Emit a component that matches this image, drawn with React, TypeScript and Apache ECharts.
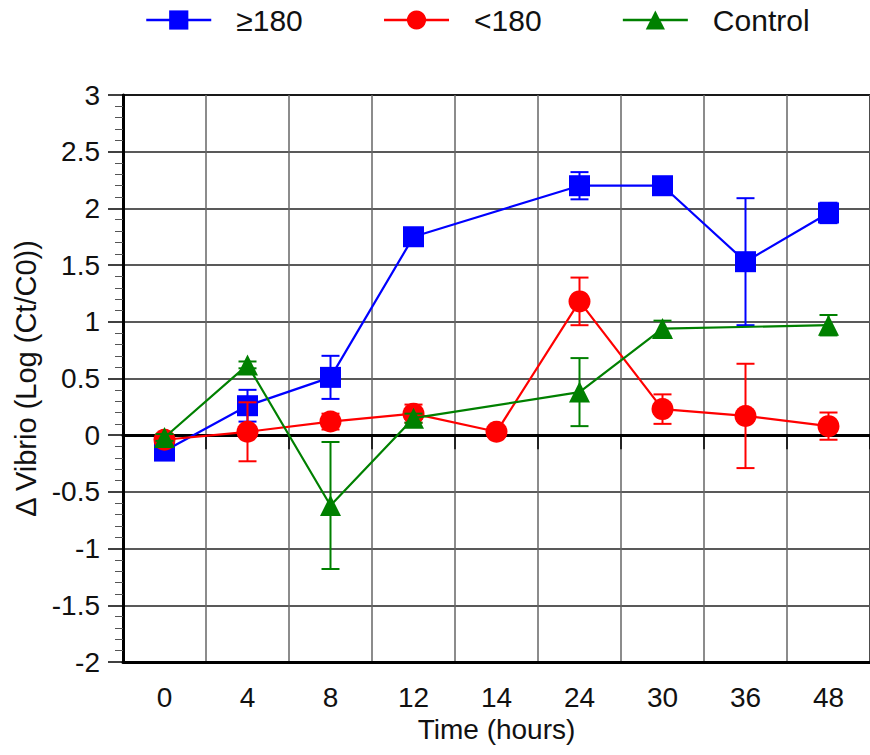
import React, { useEffect, useRef } from "react";
import * as echarts from "echarts";

const categories = ["0", "4", "8", "12", "14", "24", "30", "36", "48"];
const highMean = [-0.14, 0.26, 0.51, 1.75, null, 2.2, 2.2, 1.53, 1.96];
const highErr = [0.02, 0.14, 0.19, 0.03, null, 0.12, 0.04, 0.56, 0.09];
const lowMean = [-0.04, 0.03, 0.12, 0.19, 0.03, 1.18, 0.23, 0.17, 0.08];
const lowErr = [0.03, 0.26, 0.07, 0.08, 0.02, 0.21, 0.13, 0.46, 0.12];
const ctrlMean = [-0.02, 0.62, -0.62, 0.15, null, 0.38, 0.94, null, 0.97];
const ctrlErr = [0.03, 0.03, 0.56, 0.04, null, 0.3, 0.07, null, 0.09];
const yTicks = { min: -2, max: 3, interval: 0.5 };

const FONT = "'Liberation Sans', Arial, Helvetica, sans-serif";
const BLUE = "#0000ff";
const RED = "#ff0000";
const GREEN = "#008000";

function errSeries(means: (number | null)[], errs: (number | null)[], color: string, z: number) {
  const data: number[][] = [];
  means.forEach((m, i) => {
    const e = errs[i];
    if (m != null && e != null) data.push([i, m - e, m + e]);
  });
  return {
    type: "custom",
    z,
    silent: true,
    data,
    encode: { x: 0, y: [1, 2] },
    renderItem: (params: any, api: any) => {
      const x = api.value(0);
      const a = api.coord([x, api.value(2)]);
      const b = api.coord([x, api.value(1)]);
      const half = 9;
      const style = { stroke: color, lineWidth: 2 };
      return {
        type: "group",
        children: [
          { type: "line", shape: { x1: a[0], y1: a[1], x2: b[0], y2: b[1] }, style },
          { type: "line", shape: { x1: a[0] - half, y1: a[1], x2: a[0] + half, y2: a[1] }, style },
          { type: "line", shape: { x1: b[0] - half, y1: b[1], x2: b[0] + half, y2: b[1] }, style },
        ],
      };
    },
  };
}

function lineSeries(name: string, data: (number | null)[], color: string, symbol: string, size: number, z: number) {
  return {
    type: "line",
    name,
    data,
    z,
    connectNulls: true,
    symbol,
    symbolSize: size,
    showAllSymbol: true,
    itemStyle: { color },
    lineStyle: { color, width: 2.2 },
  };
}

export default function App() {
  const ref = useRef<HTMLDivElement>(null);
  useEffect(() => {
    if (!ref.current) return;
    const chart = echarts.init(ref.current, undefined, { renderer: "svg" });
    chart.setOption({
      animation: false,
      backgroundColor: "#ffffff",
      textStyle: { fontFamily: FONT },
      legend: {
        left: 140,
        top: 0,
        itemWidth: 65,
        itemHeight: 24,
        itemGap: 80,
        data: ["≥180", "<180", "Control"],
        lineStyle: { width: 2.5 },
        textStyle: { fontSize: 30, color: "#111", fontFamily: FONT, padding: [0, 0, 0, 20] },
      },
      grid: {
        left: 123,
        top: 95,
        width: 752,
        height: 567,
        show: true,
        borderColor: "#000",
        borderWidth: 2,
        backgroundColor: "transparent",
      },
      xAxis: [
        {
          type: "category",
          data: categories,
          position: "bottom",
          boundaryGap: true,
          axisLine: { onZero: false, lineStyle: { color: "#000", width: 3 } },
          axisTick: { show: false },
          axisLabel: { fontSize: 28, color: "#111", margin: 21, fontFamily: FONT, interval: 0 },
          splitLine: { show: true, interval: 0, lineStyle: { color: "#666", width: 1.5 } },
          name: "Time (hours)",
          nameLocation: "middle",
          nameGap: 53,
          nameTextStyle: { fontSize: 28, color: "#111", fontFamily: FONT },
        },
        {
          type: "category",
          data: categories,
          position: "bottom",
          boundaryGap: true,
          axisLine: { show: true, onZero: true, lineStyle: { color: "#000", width: 3 } },
          axisTick: { show: true, interval: 0, length: 14, lineStyle: { color: "#000", width: 1.5 } },
          axisLabel: { show: false },
          splitLine: { show: false },
        },
      ],
      yAxis: {
        type: "value",
        min: yTicks.min,
        max: yTicks.max,
        interval: yTicks.interval,
        axisLine: { show: true, lineStyle: { color: "#000", width: 3 } },
        axisTick: { show: true, length: 15, lineStyle: { color: "#000", width: 1.5 } },
        minorTick: { show: true, splitNumber: 5, length: 8, lineStyle: { color: "#555", width: 1 } },
        axisLabel: { fontSize: 28, color: "#111", margin: 23, fontFamily: FONT },
        splitLine: { show: true, lineStyle: { color: "#222", width: 1.5 } },
        name: "Δ Vibrio (Log (Ct/C0))",
        nameLocation: "middle",
        nameGap: 80,
        nameTextStyle: { fontSize: 29, color: "#111", fontFamily: FONT },
      },
      series: [
        errSeries(highMean, highErr, BLUE, 2),
        lineSeries("≥180", highMean, BLUE, "rect", 21, 3),
        errSeries(lowMean, lowErr, RED, 4),
        lineSeries("<180", lowMean, RED, "circle", 22, 5),
        errSeries(ctrlMean, ctrlErr, GREEN, 6),
        lineSeries("Control", ctrlMean, GREEN, "triangle", 21, 7),
      ],
    });
    return () => chart.dispose();
  }, []);
  return (
    <div
      ref={ref}
      style={{ position: "absolute", left: 0, top: 0, width: 870, height: 755, background: "#fff" }}
    />
  );
}
